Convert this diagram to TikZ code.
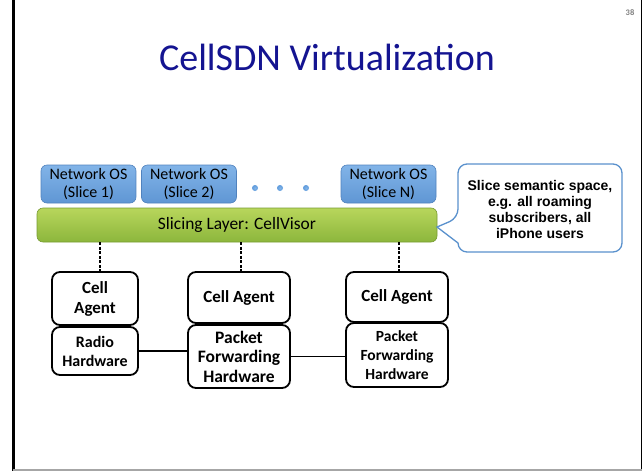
\documentclass[tikz,border=0pt]{standalone}
\usepackage{fontspec}
\setmainfont{Carlito}
\newfontfamily\arialfont{Liberation Sans}
\usetikzlibrary{calc}
\definecolor{titleblue}{RGB}{20,20,145}
\definecolor{ostop}{RGB}{130,180,232}
\definecolor{osbot}{RGB}{95,150,212}
\definecolor{osdraw}{RGB}{80,130,190}
\definecolor{grtop}{RGB}{184,214,92}
\definecolor{grbot}{RGB}{140,182,60}
\definecolor{grdraw}{RGB}{120,155,50}
\definecolor{calloutblue}{RGB}{90,145,205}
\definecolor{dotblue}{RGB}{95,155,220}
\tikzset{
  osbox/.style={draw=osdraw, line width=0.6pt, rounded corners=6pt, top color=ostop, bottom color=osbot,
    minimum width=95pt, minimum height=38pt, align=center, font=\fontsize{16}{17.5}\selectfont, inner sep=0pt},
  barbox/.style={draw=grdraw, line width=0.6pt, rounded corners=6pt, top color=grtop, bottom color=grbot,
    minimum width=400pt, minimum height=34pt, font=\fontsize{17.4}{20}\selectfont, inner sep=0pt},
  agentbox/.style={draw=black, line width=1.8pt, rounded corners=8pt, fill=white, align=center, inner sep=0pt},
  vdash/.style={line width=1.5pt, dash pattern=on 3pt off 1.5pt},
  link/.style={line width=1.2pt},
  callout/.style={draw=calloutblue, line width=1.3pt, fill=white},
}
\begin{document}
\begin{tikzpicture}[x=1pt,y=-1pt]
\useasboundingbox (0,0) rectangle (644,471);
% frame
\draw[line width=3pt] (13,0) -- (13,471);
\draw[line width=1.5pt] (641.5,0) -- (641.5,471);
\draw[line width=1.2pt, gray!70] (13,470) -- (642,470);
\node[text=gray, font=\fontsize{8.5}{9}\selectfont\bfseries] (num) at (630,13) {38};
\node[text=titleblue, font=\fontsize{38}{44}\selectfont] (title) at (327,57) {CellSDN Virtualization};
% network OS
\node[osbox] (os1) at (88.5,184) {Network OS\\(Slice 1)};
\node[osbox] (os2) at (189,184) {Network OS\\(Slice 2)};
\node[osbox] (osN) at (388.5,184) {Network OS\\(Slice N)};
\foreach \x/\n in {255/d1,280/d2,306/d3}
  \node[circle, inner sep=0pt, minimum size=6pt, inner color=ostop, outer color=dotblue] (\n) at (\x,188) {};
\node[barbox] (bar) at (237,225) {Slicing Layer: CellVisor};
% agents
\node[agentbox, minimum width=86pt, minimum height=53pt, font=\fontsize{17}{20}\selectfont\bfseries] (ca1) at (95,298.5) {Cell\\Agent};
\node[agentbox, minimum width=86pt, minimum height=48pt, font=\fontsize{16}{19}\selectfont\bfseries] (rh1) at (95,351) {Radio\\Hardware};
\node[agentbox, minimum width=102pt, minimum height=51pt, font=\fontsize{17}{20}\selectfont\bfseries] (ca2) at (239,297.5) {Cell Agent};
\node[agentbox, minimum width=102pt, minimum height=63pt, font=\fontsize{17.5}{19.5}\selectfont\bfseries] (pf2) at (239,356.5) {Packet\\Forwarding\\Hardware};
\node[agentbox, minimum width=102pt, minimum height=50pt, font=\fontsize{17}{20}\selectfont\bfseries] (ca3) at (397,297) {Cell Agent};
\node[agentbox, minimum width=102pt, minimum height=64pt, font=\fontsize{15.5}{19}\selectfont\bfseries] (pf3) at (397,355) {Packet\\Forwarding\\Hardware};
% connectors
\draw[vdash] (bar.south -| 100,0) -- (ca1.north -| 100,0);
\draw[vdash] (bar.south -| 241,0) -- (ca2.north -| 241,0);
\draw[vdash] (bar.south -| 399,0) -- (ca3.north -| 399,0);
\draw[link] (rh1.east) -- (pf2.west |- rh1.east);
\draw[link] (pf2.east) -- (pf3.west |- pf2.east);
% callout
\draw[callout] (458,243) [rounded corners=9pt] -- (458,252) -- (622,252) -- (622,164) -- (458,164) -- (458,218) [sharp corners] -- (437,227) -- cycle;
\node[font=\arialfont\fontsize{14}{16}\selectfont\bfseries, align=center] (ctext) at (540,209) {Slice semantic space,\\e.g. all roaming\\subscribers, all\\iPhone users};
\end{tikzpicture}
\end{document}
